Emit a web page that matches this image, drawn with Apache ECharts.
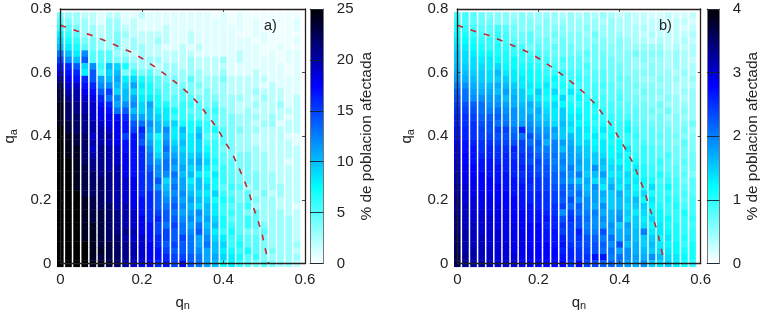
<!DOCTYPE html>
<html><head><meta charset="utf-8">
<style>html,body{margin:0;padding:0;background:#fff}#c{width:762px;height:315px}</style>
<script src="https://cdn.jsdelivr.net/npm/echarts@6/dist/echarts.min.js"></script>
</head><body><div id="c"></div>
<script>
const qnValues=[0,.02,.04,.06,.08,.1,.12,.14,.16,.18,.2,.22,.24,.26,.28,.3,.32,.34,.36,.38,.4,.42,.44,.46,.48,.5,.52,.54,.56,.58];
const qaValues=[.78,.76,.74,.72,.7,.68,.66,.64,.62,.6,.58,.56,.54,.52,.5,.48,.46,.44,.42,.4,.38,.36,.34,.32,.3,.28,.26,.24,.22,.2,.18,.16,.14,.12,.1,.08,.06,.04,.02,0];
const xTicks=[0,.2,.4,.6];
const yTicks=[0,.2,.4,.6,.8];
const curveQn=[0,.007,.041,.075,.107,.141,.173,.203,.232,.262,.288,.316,.34,.362,.383,.401,.42,.435,.448,.462,.472,.484,.494,.502,.511];
const curveQa=[.75,.746,.731,.718,.702,.683,.665,.643,.618,.59,.564,.533,.501,.464,.429,.389,.349,.31,.27,.226,.182,.138,.097,.05,0];
const valuesA=[
[4,3,3,2,2,1,2,2,1,1,2,1,1,1,1,1,1,1,1,.5,1,.5,1,.5,.5,.5,.5,.5,.5,.5],
[5,4,3,3,2,1,3,3,1,2,1,1,1,1,1,1,1,1,1,1,1,.5,1,.5,1,.5,.5,.5,.5,1],
[6,5,4,3,3,2,3,3,2,2,1,1,1,2,1,1,1,1,1,1,1,1,1,.5,1,.5,.5,.5,.5,1],
[8,6,5,3,3,2,3,4,3,2,2,2,2,2,1,1,2,1,1,1,1,1,.5,.5,1,1,.5,.5,.5,.5],
[9,7,6,4,4,3,3,4,2,3,2,2,3,2,1,1,2,1,1,1,1,1,1,1,.5,1,.5,.5,.5,1],
[10,8,7,5,4,3,3,4,2,3,3,2,2,1,1,2,1,2,1,1,1,1,1,1,1,.5,.5,1,.5,.5],
[13,10,8,12,5,5,5,3,3,2,3,2,2,2,2,2,2,1,1,1,1,1,2,1,1,.5,1,.5,1,1],
[15,12,10,14,5,5,5,4,4,3,3,3,3,2,2,2,3,2,2,2,3,1,2,1,1,1,1,.5,1,1],
[17,16,14,9,12,6,10,9,7,4,3,3,2,3,3,2,3,2,2,2,2,1,1,1,1,1,1,1,.5,1],
[18,17,16,8,14,5,9,10,4,6,4,5,3,3,3,3,3,3,2,2,3,1,1,1,2,1,1,1,.5,1],
[20,18,17,16,14,11,10,11,8,9,7,6,5,4,4,3,5,3,3,3,4,2,2,2,2,2,1,1,1,1],
[22,19,19,17,16,12,12,10,9,11,8,7,5,5,4,4,4,4,3,3,3,2,2,2,2,1,2,1,1,1],
[23,20,20,18,17,14,15,9,10,9,7,7,6,5,4,5,4,3,4,3,3,2,2,2,3,2,2,2,1,1],
[23,21,20,19,18,16,13,12,10,11,8,8,7,5,5,5,5,4,4,4,3,3,3,2,2,3,2,2,1,2],
[24,22,21,20,19,17,16,11,12,12,9,11,7,7,5,6,6,5,4,5,3,3,2,2,3,2,2,3,1,2],
[24,22,21,20,19,18,17,13,14,10,9,10,8,8,7,6,5,5,5,6,4,3,2,3,2,2,2,2,2,2],
[24,22,22,21,19,18,18,17,16,12,11,10,9,8,6,6,6,5,5,5,4,4,3,3,3,2,3,2,1,2],
[24,23,22,21,20,19,18,18,17,14,13,12,10,9,9,7,7,7,6,5,4,4,3,3,2,3,3,1,2,2],
[25,23,22,21,20,20,19,18,17,15,16,11,10,12,8,10,7,9,6,7,5,4,4,3,3,2,2,2,2,2],
[25,24,23,22,19,20,20,18,15,17,15,10,7,11,8,9,8,10,5,5,5,4,3,3,2,2,2,2,1,1],
[25,24,23,22,20,20,19,18,17,17,14,11,8,12,9,10,8,9,6,6,5,4,3,3,2,2,2,2,2,1],
[25,24,24,22,19,21,20,19,17,17,16,12,8,13,10,9,8,9,7,6,4,4,3,3,3,2,2,2,2,2],
[25,24,24,22,20,21,20,19,18,17,16,13,9,12,11,10,9,10,8,6,5,4,4,4,3,3,2,2,2,2],
[25,25,24,22,21,21,20,19,18,17,16,13,11,13,12,10,10,11,9,7,5,5,4,4,3,3,2,2,1,2],
[25,25,24,23,21,21,20,20,18,17,16,14,12,13,11,11,9,10,8,6,6,5,4,4,3,3,2,2,2,2],
[25,25,24,23,22,21,21,20,18,17,16,15,12,12,13,10,10,8,7,8,6,5,4,4,4,3,3,2,2,2],
[25,25,24,23,22,22,21,20,19,18,16,15,14,9,12,11,8,10,8,7,6,5,4,4,4,3,3,2,2,2],
[25,25,24,23,22,22,21,20,19,18,16,15,12,10,13,11,9,10,9,7,5,6,5,3,4,3,3,3,2,2],
[25,25,25,23,22,22,21,20,19,18,16,16,14,11,12,12,10,9,8,9,6,5,4,5,3,4,2,3,2,2],
[25,25,25,24,23,22,21,20,19,18,17,16,14,12,13,11,11,10,9,7,7,6,4,5,4,3,3,2,2,2],
[25,25,25,24,23,22,22,20,20,18,17,16,14,13,14,12,10,9,10,8,6,5,5,6,3,3,3,2,2,1],
[25,25,25,24,23,23,22,21,20,19,17,16,15,14,13,11,11,12,10,8,6,6,5,4,5,3,3,3,2,2],
[25,25,25,24,23,23,22,21,20,19,18,16,16,14,14,12,12,11,11,9,7,5,5,6,5,3,3,3,3,2],
[25,25,25,24,24,23,22,21,20,19,18,17,15,13,15,13,11,13,10,10,7,6,5,6,5,4,3,3,3,2],
[25,25,25,24,24,23,22,21,21,20,18,17,15,15,14,13,12,14,11,8,6,7,5,4,4,5,3,3,3,2],
[25,25,25,24,24,23,22,22,20,19,19,17,16,15,14,15,13,11,12,9,8,6,6,5,5,4,3,3,3,2],
[25,25,25,25,24,23,23,22,21,20,19,18,16,14,15,14,13,11,13,10,9,6,7,5,5,4,3,3,3,3],
[25,25,25,25,24,24,23,22,21,20,19,18,17,15,14,14,13,12,11,10,8,7,6,7,5,4,4,3,3,2],
[25,25,25,25,24,23,23,22,21,20,19,18,17,16,15,15,14,13,11,11,9,8,7,5,6,4,3,3,3,3],
[25,25,25,25,24,24,23,22,20,19,18,18,16,17,15,18,14,13,11,10,7,8,6,5,4,5,4,3,3,2]];
const valuesB=[
[.9,.9,.8,.7,.6,.6,.6,.5,.6,.5,.5,.5,.5,.4,.5,.4,.5,.4,.5,.4,.3,.4,.3,.3,.2,.2,.3,.2,.2,.3],
[1.0,.9,.8,.7,.7,.6,.6,.6,.6,.6,.5,.6,.5,.5,.5,.5,.5,.5,.4,.5,.4,.4,.3,.3,.3,.3,.2,.3,.3,.2],
[1.1,1.0,.9,.8,.8,.9,.8,.7,.6,.6,.6,.6,.6,.6,.5,.5,.6,.5,.5,.5,.4,.4,.4,.4,.3,.3,.2,.3,.2,.3],
[1.2,1.1,1.0,.9,.8,1.0,.9,.7,.7,.8,.6,.6,.7,.6,.6,.6,.5,.7,.5,.5,.5,.4,.4,.3,.4,.3,.3,.3,.3,.4],
[1.3,1.2,1.1,1.0,1.0,1.0,.9,.8,.7,.8,.7,.7,.6,.7,.6,.6,.6,.6,.6,.5,.6,.5,.4,.4,.3,.4,.3,.3,.4,.3],
[1.4,1.3,1.2,1.1,1.0,1.1,1.0,1.0,.9,.7,.8,.7,.8,.7,.7,.6,.6,.7,.6,.6,.6,.5,.5,.5,.5,.5,.3,.4,.3,.4],
[1.5,1.4,1.3,1.2,1.2,1.1,1.1,1.0,1.0,.9,.9,.8,.7,.7,.7,.7,.8,.7,.7,.6,.6,.6,.7,.6,.6,.6,.4,.5,.4,.4],
[1.5,1.4,1.4,1.3,1.3,1.2,1.1,1.2,1.0,1.0,.9,.9,.8,.9,.8,.8,.7,.7,.7,.7,.6,.6,.5,.6,.5,.5,.4,.5,.4,.3],
[1.6,1.5,1.4,1.4,1.3,1.4,1.2,1.2,1.1,1.1,1.0,.9,.9,.8,.8,.8,.9,.7,.7,.7,.7,.6,.5,.5,.6,.5,.4,.5,.4,.4],
[1.7,1.6,1.5,1.5,1.4,1.6,1.3,1.3,1.2,1.2,1.1,1.0,1.0,1.0,.9,.9,.8,.8,.8,.7,.7,.6,.6,.6,.6,.5,.5,.4,.5,.4],
[1.8,1.7,1.6,1.5,1.4,1.5,1.5,1.3,1.3,1.2,1.1,1.1,1.2,1.0,.9,1.0,.9,.8,.8,.7,.8,.7,.6,.5,.5,.6,.5,.5,.4,.5],
[2.0,1.9,1.7,1.6,1.6,1.7,1.6,1.5,1.3,1.3,1.2,1.3,1.1,1.1,1.0,.9,.9,.9,.9,.8,.7,.7,.7,.6,.6,.5,.5,.4,.4,.4],
[2.2,2.1,1.8,1.7,1.7,1.6,1.8,1.6,1.5,1.2,1.5,1.2,1.4,1.0,1.3,1.0,.9,.9,.8,.8,.8,.7,.6,.7,.6,.6,.5,.4,.5,.5],
[2.3,2.1,1.9,1.9,1.8,1.8,1.6,1.7,1.5,1.4,1.3,1.1,1.2,1.4,1.0,1.2,1.0,.9,.9,.8,.9,.7,.7,.6,.6,.5,.6,.5,.4,.5],
[2.4,2.3,2.2,2.1,1.9,1.9,1.8,1.7,1.6,1.7,1.5,1.3,1.4,1.2,1.1,1.0,1.1,1.1,.9,.9,.8,.8,.7,.7,.6,.7,.5,.5,.5,.5],
[2.5,2.4,2.3,2.1,2.0,2.1,1.9,1.9,1.7,1.6,1.7,1.4,1.3,1.5,1.2,1.2,1.1,1.0,1.0,.9,.9,.8,.8,.7,.7,.6,.7,.5,.6,.5],
[2.6,2.5,2.4,2.2,2.2,2.2,2.0,1.9,1.7,1.8,1.6,1.5,1.3,1.5,1.3,1.3,1.1,1.1,1.0,1.0,.9,.9,.8,.7,.6,.7,.5,.6,.5,.5],
[2.6,2.5,2.5,2.3,2.3,2.1,2.1,1.9,1.8,1.9,1.7,1.6,1.4,1.6,1.4,1.2,1.2,1.0,1.1,1.0,1.0,1.1,.8,.8,.7,.7,.6,.6,.6,.7],
[2.7,2.6,2.5,2.4,2.3,2.4,2.4,2.1,2.6,2.0,1.9,1.8,1.8,1.5,1.3,1.4,1.3,1.1,1.3,1.1,1.0,1.2,.9,.8,.8,.7,.7,.6,.7,.5],
[2.7,2.6,2.5,2.4,2.4,2.3,2.3,2.2,2.1,2.3,2.0,1.9,1.7,1.5,1.6,1.4,1.2,1.3,1.1,1.2,1.0,1.0,1.0,.8,.8,.8,.7,.7,.6,.6],
[2.8,2.7,2.6,2.5,2.5,2.4,2.4,2.3,2.4,2.1,2.2,1.7,2.0,1.8,1.7,1.4,1.4,1.2,1.3,1.1,1.2,1.0,.9,.9,.8,.7,.7,.6,.8,.6],
[2.9,2.7,2.7,2.5,2.6,2.5,2.5,2.6,2.4,2.3,2.1,2.0,2.0,1.6,1.8,1.6,1.5,1.3,1.3,1.2,1.2,1.3,.9,1.0,.9,.8,.7,.7,.7,.6],
[2.9,2.8,2.7,2.6,2.6,2.5,2.6,2.5,2.5,2.4,2.2,2.1,2.1,1.9,1.8,1.7,1.5,1.5,1.4,1.2,1.3,1.1,1.0,1.0,.9,.8,.9,.7,.7,.7],
[3.0,2.8,2.7,2.7,2.7,2.6,2.6,2.6,2.5,2.3,2.4,2.2,2.0,2.0,1.8,1.8,1.6,1.5,1.6,1.3,1.2,1.2,1.1,1.0,.9,1.0,.8,.7,.8,.7],
[3.0,2.9,2.8,2.7,2.7,2.7,2.6,2.6,2.6,2.5,2.3,2.3,2.1,1.9,2.0,1.7,1.6,1.9,1.5,1.4,1.4,1.2,1.3,1.1,1.0,.9,.8,.8,.7,.7],
[3.1,2.9,2.8,2.8,2.7,2.7,2.7,2.6,2.5,2.5,2.4,2.3,2.2,2.1,1.9,2.0,1.5,1.6,1.8,1.3,1.3,1.4,1.2,1.1,1.0,1.1,.9,.8,.8,.6],
[3.1,2.9,2.9,2.8,2.8,2.7,2.7,2.7,2.6,2.6,2.5,2.4,2.2,2.0,1.8,1.6,1.7,1.4,1.5,1.5,1.4,1.3,1.3,1.2,1.1,.9,1.0,.9,.7,.8],
[3.2,3.0,2.9,2.8,2.8,2.8,2.7,2.7,2.7,2.5,2.5,2.4,2.3,2.2,2.1,1.9,1.6,1.9,1.3,1.7,1.3,1.5,1.2,1.1,1.4,1.0,1.2,.9,.8,.8],
[3.2,3.0,2.9,2.9,2.8,2.8,2.8,2.7,2.7,2.6,2.6,2.5,2.4,2.3,2.0,2.1,1.7,1.8,1.7,1.5,1.7,1.4,1.3,1.4,1.1,1.0,1.0,.9,.9,.8],
[3.3,3.0,3.0,2.9,2.9,2.8,2.8,2.8,2.7,2.6,2.6,2.5,2.4,2.2,2.3,1.9,1.9,1.8,1.6,1.5,1.6,1.5,1.6,1.2,1.3,1.0,1.1,1.0,.8,.9],
[3.3,3.1,3.0,2.9,2.9,2.9,2.8,2.8,2.7,2.7,2.6,2.5,2.5,2.4,2.1,2.2,1.9,1.7,1.9,1.5,1.6,1.4,1.5,1.5,1.2,1.1,1.0,1.1,.9,.9],
[3.3,3.1,3.0,3.0,2.9,2.9,2.9,2.8,2.8,2.7,2.7,2.6,2.5,1.9,2.4,2.1,2.0,2.0,1.7,1.7,1.8,1.5,1.3,1.4,1.2,1.2,1.0,1.0,1.1,.9],
[3.4,3.1,3.0,3.0,3.0,2.9,2.9,2.8,2.8,2.7,2.7,2.7,2.6,2.3,2.5,2.3,2.1,1.9,1.9,1.7,1.9,1.4,1.5,1.3,1.4,1.2,1.2,1.0,1.0,1.0],
[3.4,3.1,3.1,3.0,3.0,2.9,2.9,2.9,2.8,2.8,2.8,2.6,2.6,2.5,2.4,2.3,2.0,1.9,1.8,1.9,1.5,1.8,1.5,1.4,1.2,1.3,1.1,1.1,1.0,.9],
[3.4,3.2,3.1,3.0,3.0,3.0,2.9,2.9,2.9,2.8,2.8,2.7,2.7,2.4,2.4,2.6,2.1,2.0,2.3,1.8,1.7,1.7,1.6,2.0,1.3,1.3,1.2,1.1,1.0,1.0],
[3.5,3.2,3.1,3.1,3.0,3.0,2.9,2.9,2.9,2.8,2.8,2.7,2.7,2.6,2.4,2.5,2.3,2.2,2.0,2.1,1.7,1.8,1.6,1.5,1.5,1.2,1.3,1.1,1.1,1.0],
[3.5,3.2,3.1,3.1,3.0,3.0,3.0,2.9,2.9,2.8,2.8,2.8,2.7,2.7,2.5,2.4,2.3,2.3,2.2,1.9,2.3,1.6,1.7,1.5,1.6,1.3,1.2,1.2,1.0,1.1],
[3.5,3.2,3.2,3.1,3.1,3.0,3.0,2.9,2.9,2.9,2.8,2.8,2.8,2.6,2.6,2.5,2.4,2.3,2.1,2.1,1.8,1.9,1.7,1.6,1.5,1.4,1.3,1.2,1.1,1.1],
[3.6,3.3,3.2,3.1,3.1,3.0,3.0,3.0,2.9,2.9,2.8,2.8,2.8,2.7,2.6,2.5,2.5,2.7,2.7,2.0,2.1,1.9,1.8,1.7,1.9,1.6,1.4,1.3,1.2,1.1],
[3.6,3.3,3.2,3.2,3.1,3.0,3.0,3.0,2.9,2.9,2.8,2.8,2.8,2.8,2.5,2.8,2.4,2.4,2.2,2.2,2.0,1.8,1.7,1.9,1.5,1.4,1.5,1.3,1.1,1.0]];
const paletteColors=['#ffffff','#aaffff','#55ffff','#00ffff','#00bfff','#0080ff','#0040ff','#0000ff','#0000aa','#000055','#000000'];
const FONT='"Liberation Sans",Arial,sans-serif';
const PANELS=[
 {name:'a)',values:valuesA,max:25,step:5,left:60.3,width:244.7,barLeft:310,barWidth:13.3,noteX:271},
 {name:'b)',values:valuesB,max:4,step:1,left:457.3,width:243.4,barLeft:707,barWidth:12.3,noteX:666}
];
const TOP=9,H=254.5;
const cells=v=>{const o=[];qaValues.forEach((a,r)=>qnValues.forEach((q,c)=>o.push([q,a,v[r][c]])));return o;};
const renderCell=(p,api)=>{
 const c=api.coord([api.value(0),api.value(1)]),s=api.size([.02,.02]);
 return {type:'rect',shape:{x:c[0]-s[0]/2+.75,y:c[1]-s[1]/2,width:s[0]-1.5,height:s[1]+.4},style:{fill:api.visual('color')}};
};
const lineC='#222';
const rich={b:{fontFamily:FONT,fontSize:15,color:'#222'},s:{fontFamily:FONT,fontSize:11,color:'#222',padding:[7,0,0,0]}};
const grid=[],xAxis=[],yAxis=[],series=[],visualMap=[],graphic=[];
PANELS.forEach((p,i)=>{
 const g=grid.length;
 grid.push({left:p.left,width:p.width,top:TOP,height:H,outerBoundsMode:'none'});
 grid.push({left:p.barLeft,width:p.barWidth,top:TOP,height:H,outerBoundsMode:'none'});
 const base={min:0,z:10,splitLine:{show:false},axisLine:{onZero:false,lineStyle:{color:lineC,width:1.3}},axisTick:{inside:true,length:3,lineStyle:{color:lineC,width:.8}}};
 const label={fontFamily:FONT,fontSize:15,color:'#222'};
 xAxis.push({...base,type:'value',gridIndex:g,max:.6,interval:.2,position:'bottom',axisLabel:{...label,margin:9,customValues:xTicks},
   name:'{b|q}{s|n}',nameLocation:'middle',nameGap:30,nameTextStyle:{rich}});
 xAxis.push({...base,type:'value',gridIndex:g,max:.6,interval:.2,position:'top',axisLabel:{show:false}});
 yAxis.push({...base,type:'value',gridIndex:g,max:.8,interval:.2,position:'left',axisLabel:{...label,margin:9,customValues:yTicks},
   name:'{b|q}{s|a}',nameLocation:'middle',nameGap:41,nameRotate:90,nameTextStyle:{rich}});
 yAxis.push({...base,type:'value',gridIndex:g,max:.8,interval:.2,position:'right',axisLabel:{show:false}});
 const bar={min:0,z:10,axisLine:{onZero:false,lineStyle:{color:'#777',width:1}}};
 xAxis.push({...bar,type:'value',gridIndex:g+1,max:1,position:'bottom',axisTick:{show:false},axisLabel:{show:false},splitLine:{show:false}});
 xAxis.push({...bar,type:'value',gridIndex:g+1,max:1,position:'top',axisTick:{show:false},axisLabel:{show:false},splitLine:{show:false}});
 yAxis.push({...bar,type:'value',gridIndex:g+1,max:p.max,interval:p.step,position:'left',axisTick:{show:false},axisLabel:{show:false},splitLine:{show:false}});
 yAxis.push({...bar,type:'value',gridIndex:g+1,max:p.max,interval:p.step,position:'right',axisTick:{inside:true,length:p.barWidth,lineStyle:{color:'#123',width:.9}},
   axisLabel:{...label,margin:13.5},splitLine:{show:false},
   name:'% de poblacion afectada',nameLocation:'middle',nameGap:i?26:36,nameRotate:90,nameTextStyle:{fontFamily:FONT,fontSize:15.4,color:'#222'}});
 const ax=i*4;
 series.push({type:'custom',coordinateSystem:'cartesian2d',xAxisIndex:ax,yAxisIndex:ax,encode:{x:0,y:1},data:cells(p.values),renderItem:renderCell,silent:true,z:2});
 series.push({type:'line',xAxisIndex:ax,yAxisIndex:ax,data:curveQn.map((q,k)=>[q,curveQa[k]]),showSymbol:false,symbol:'none',silent:true,z:5,clip:false,
   lineStyle:{color:'#c6262e',width:1.6,type:[6,8]}});
 visualMap.push({type:'continuous',min:0,max:p.max,dimension:2,seriesIndex:i*2,show:true,left:p.barLeft,top:TOP,itemWidth:p.barWidth,itemHeight:H,padding:0,text:null,calculable:false,hoverLink:false,
   inRange:{color:paletteColors},z:4});
 graphic.push({type:'text',left:p.noteX-7,top:18,z:20,style:{text:p.name,font:'14.5px '+FONT,fill:'#222'}});
});
const chart=echarts.init(document.getElementById('c'),null,{renderer:'canvas'});
chart.setOption({animation:false,backgroundColor:'#fff',grid,xAxis,yAxis,series,visualMap,graphic});
</script></body></html>
